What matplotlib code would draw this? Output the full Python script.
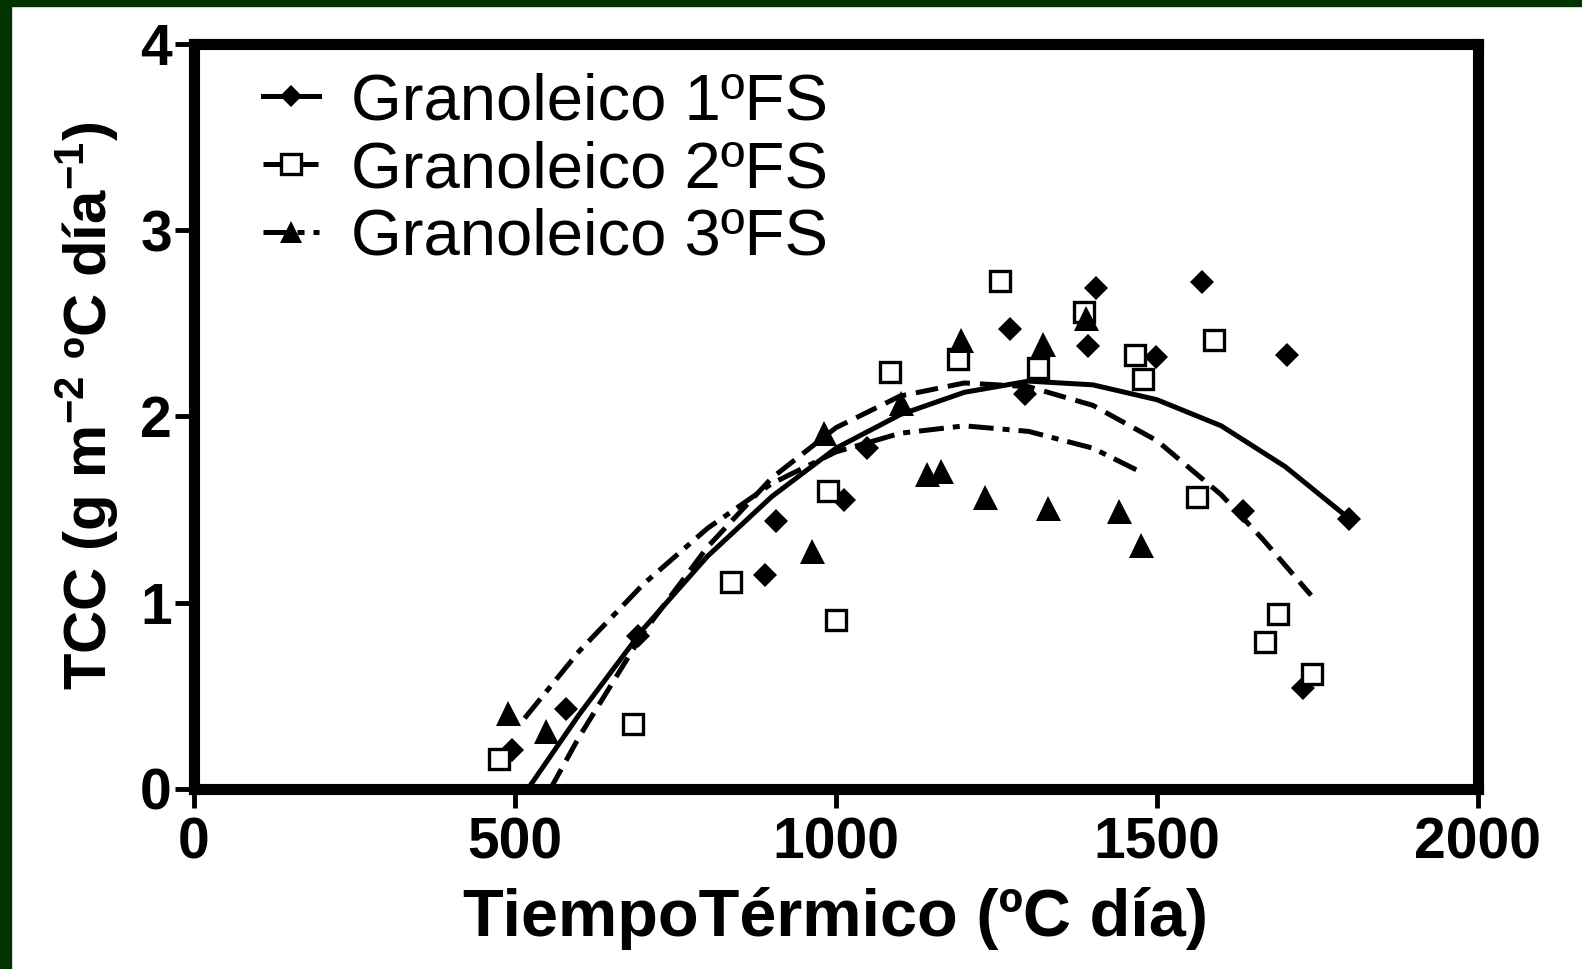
import numpy as np
import matplotlib
matplotlib.use("Agg")
import matplotlib.pyplot as plt
from matplotlib.lines import Line2D
from matplotlib.patches import Rectangle

plt.rcParams["font.family"] = ["Liberation Sans", "DejaVu Sans"]

# Observed TCC values (diamond = 1ºFS, square = 2ºFS, triangle = 3ºFS)
fs1_x = [495, 579, 692, 889, 906, 1013, 1049, 1271, 1294, 1393, 1405, 1499, 1570, 1634, 1702, 1727, 1799]
fs1_y = [0.21, 0.43, 0.82, 1.15, 1.44, 1.55, 1.83, 2.47, 2.12, 2.38, 2.69, 2.32, 2.72, 1.49, 2.33, 0.54, 1.45]

fs2_x = [475, 684, 836, 987, 1000, 1084, 1190, 1255, 1314, 1387, 1465, 1478, 1563, 1589, 1669, 1688, 1741]
fs2_y = [0.16, 0.35, 1.11, 1.60, 0.91, 2.24, 2.31, 2.73, 2.26, 2.56, 2.33, 2.20, 1.57, 2.41, 0.79, 0.94, 0.62]

fs3_x = [489, 549, 963, 982, 1101, 1142, 1164, 1194, 1232, 1323, 1330, 1390, 1441, 1475]
fs3_y = [0.41, 0.31, 1.28, 1.91, 2.07, 1.69, 1.71, 2.41, 1.57, 2.39, 1.51, 2.53, 1.49, 1.31]

# Fitted curves
fit1_x = [520, 600, 700, 800, 900, 1000, 1100, 1200, 1300, 1400, 1500, 1600, 1700, 1800]
fit1_y = [0.0, 0.40, 0.86, 1.25, 1.57, 1.83, 2.01, 2.13, 2.19, 2.17, 2.09, 1.95, 1.73, 1.45]

fit2_x = [555, 600, 700, 800, 900, 1000, 1100, 1200, 1300, 1400, 1500, 1600, 1665, 1700, 1740]
fit2_y = [0.0, 0.28, 0.84, 1.30, 1.67, 1.94, 2.11, 2.18, 2.16, 2.06, 1.87, 1.58, 1.34, 1.20, 1.04]

fit3_x = [515, 600, 700, 800, 900, 1000, 1100, 1200, 1300, 1400, 1470]
fit3_y = [0.38, 0.74, 1.10, 1.40, 1.64, 1.81, 1.91, 1.95, 1.92, 1.83, 1.71]

labels = ["Granoleico 1ºFS", "Granoleico 2ºFS", "Granoleico 3ºFS"]
x_ticks = [0, 500, 1000, 1500, 2000]
y_ticks = [0, 1, 2, 3, 4]

W, H = 1582, 969
fig = plt.figure(figsize=(W / 100, H / 100), dpi=100)
ax = fig.add_axes([194 / W, 1 - 789 / H, (1478 - 194) / W, (789 - 44) / H])

lw = 3.6
dash2 = (4.5, 2.0)
dash3 = (5.0, 1.8, 1.4, 1.8)

ax.plot(fit1_x, fit1_y, color="k", lw=lw, solid_capstyle="butt")
ax.plot(fit2_x, fit2_y, color="k", lw=lw, dashes=dash2)
ax.plot(fit3_x, fit3_y, color="k", lw=lw, dashes=dash3)

ax.plot(fs1_x, fs1_y, ls="none", marker="D", ms=12, color="k", mew=0)
ax.plot(fs2_x, fs2_y, ls="none", marker="s", ms=14.5, mfc="white", mec="k", mew=2.4)
ax.plot(fs3_x, fs3_y, ls="none", marker="^", ms=18, color="k", mew=0)

ax.set_xlim(0, 2000)
ax.set_ylim(0, 4)
ax.set_xticks(x_ticks)
ax.set_yticks(y_ticks)

for s in ax.spines.values():
    s.set_linewidth(8)
ax.tick_params(axis="both", length=14, width=3.5, direction="out")
ax.tick_params(axis="x", pad=6)
ax.tick_params(axis="y", pad=2)
for lab in ax.get_xticklabels() + ax.get_yticklabels():
    lab.set_fontsize(41)
    lab.set_fontweight("bold")

ax.set_xlabel("TiempoTérmico (ºC día)", fontsize=48, fontweight="bold", labelpad=12)
ax.set_ylabel(r"TCC (g m$\mathregular{^{-2}}$ ºC día$\mathregular{^{-1}}$)",
              fontsize=43, fontweight="bold")
ax.yaxis.set_label_coords(-0.057, 0.514)

handles = [
    Line2D([], [], color="k", lw=lw, marker="D", ms=11, mew=0),
    Line2D([], [], color="k", lw=lw, dashes=dash2, marker="s", ms=14.5, mfc="white", mec="k", mew=2.4),
    Line2D([], [], color="k", lw=lw, dashes=dash3, marker="^", ms=16, mew=0),
]
ax.legend(handles, labels, loc="upper left", bbox_to_anchor=(0.054, 0.962),
          frameon=False, fontsize=47, handlelength=0.85, handletextpad=0.5,
          labelspacing=0.12, borderpad=0, borderaxespad=0)

# dark green frame on top and left edges
fig.patches.append(Rectangle((0, 1 - 6 / H), 1, 6 / H, transform=fig.transFigure,
                             color="#003300", zorder=10))
fig.patches.append(Rectangle((0, 0), 11 / W, 1, transform=fig.transFigure,
                             color="#003300", zorder=10))

fig.savefig("out.png", dpi=100)
